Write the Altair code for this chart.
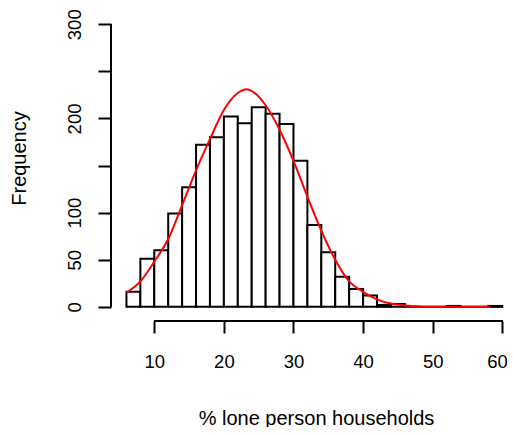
import altair as alt
import pandas as pd

# Histogram bins (width 2) and counts
bin_start = [6, 8, 10, 12, 14, 16, 18, 20, 22, 24, 26, 28, 30, 32, 34, 36, 38,
             40, 42, 44, 46, 48, 50, 52, 54, 56, 58]
bin_end = [8, 10, 12, 14, 16, 18, 20, 22, 24, 26, 28, 30, 32, 34, 36, 38, 40,
           42, 44, 46, 48, 50, 52, 54, 56, 58, 60]
counts = [16, 51, 60, 99, 127, 172, 180, 202, 195, 212, 205, 194, 155, 87, 58,
          32, 19, 12, 2, 3, 0, 0, 0, 1, 0, 0, 1]

# Red fitted curve
curve_x = [6, 8, 10, 12, 14, 16, 18, 20, 22, 23.3, 24, 26, 28, 30, 32, 34, 36,
           38, 40, 42, 44, 46, 48, 50, 54, 58.3]
curve_y = [15, 27, 48, 72, 108, 145, 178, 209, 227, 231, 229, 214, 188, 155,
           117, 81, 50, 27, 16, 8, 3.5, 1.5, 0.5, 0.2, 0, 0]

x_ticks = [10, 20, 30, 40, 50, 60]
y_ticks = [0, 50, 100, 150, 200, 250, 300]
x_title = "% lone person households"
y_title = "Frequency"

hist = pd.DataFrame({"start": bin_start, "end": bin_end, "count": counts,
                     "base": [0] * len(counts)})
curve = pd.DataFrame({"x": curve_x, "y": curve_y})

W, H = 396, 309
FONT = "Liberation Sans"
xs = alt.Scale(domain=[3.78, 60.68], nice=False, zero=False)
ys = alt.Scale(domain=[-15, 313], nice=False, zero=False)

x_axis = alt.Axis(values=x_ticks, domain=False, grid=False, tickSize=12,
                  tickWidth=2, tickColor="black", labelFont=FONT,
                  labelFontSize=18.5, labelColor="black", labelPadding=34,
                  labelBaseline="alphabetic", labelFlush=6,
                  labelFlushOffset=5,
                  labelOverlap=False, title=x_title, titleFont=FONT,
                  titleFontSize=20, titleFontWeight="normal",
                  titleColor="black", titleX=205, titleY=103,
                  titleAlign="center", titleBaseline="alphabetic")
y_axis = alt.Axis(values=y_ticks, domain=False, grid=False, tickSize=13,
                  tickWidth=2, tickColor="black", labelFont=FONT,
                  labelFontSize=18.5, labelColor="black", labelAngle=270,
                  labelAlign="center", labelBaseline="alphabetic",
                  labelPadding=18, labelFlush=False, labelOverlap=False,
                  labelExpr="(datum.value == 150 || datum.value == 250) ? '' : datum.label",
                  title=y_title, titleFont=FONT, titleFontSize=20,
                  titleFontWeight="normal", titleColor="black",
                  titleAngle=270, titleX=-86, titleY=146,
                  titleAlign="center", titleBaseline="alphabetic")

bars = alt.Chart(hist).mark_rect(fill="white", stroke="black",
                                 strokeWidth=2).encode(
    x=alt.X("start:Q", scale=xs, axis=x_axis),
    x2="end:Q",
    y=alt.Y("count:Q", scale=ys, axis=y_axis),
    y2="base:Q",
)

line = alt.Chart(curve).mark_line(color="#ff0000", strokeWidth=2,
                                  interpolate="monotone").encode(
    x="x:Q", y="y:Q")

x_line = alt.Chart(hist).mark_rule(color="black", strokeWidth=2).encode(
    x=alt.datum(x_ticks[0]), x2=alt.datum(x_ticks[-1]), y=alt.value(H))
y_line = alt.Chart(hist).mark_rule(color="black", strokeWidth=2).encode(
    y=alt.datum(y_ticks[0]), y2=alt.datum(y_ticks[-1]), x=alt.value(0))

chart = alt.layer(bars, line, x_line, y_line).properties(
    width=W, height=H,
    autosize=alt.AutoSizeParams(type="none"),
    padding={"left": 103, "top": 4, "right": 0, "bottom": 106},
    background="white",
).configure_view(stroke=None)

chart.save("out.html", embed_options={"renderer": "svg", "actions": False})
